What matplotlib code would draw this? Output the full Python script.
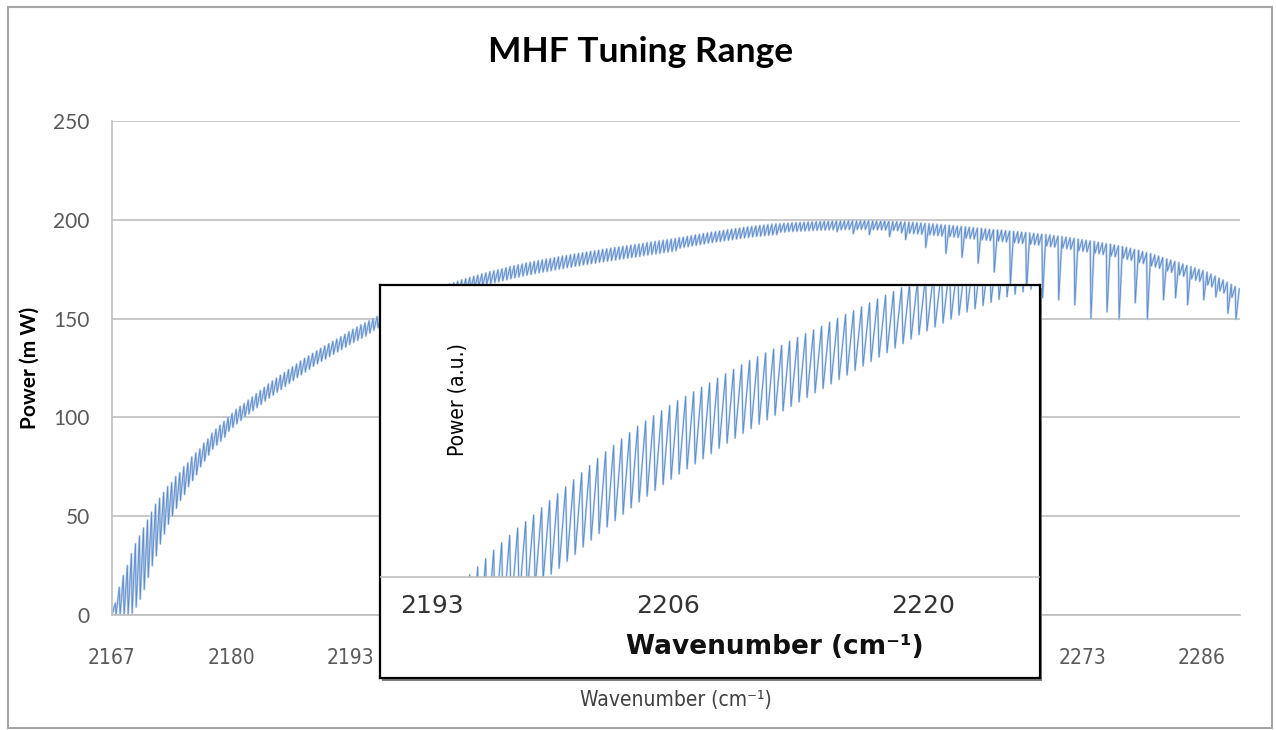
import numpy as np
import matplotlib
matplotlib.use("Agg")
import matplotlib.pyplot as plt
from matplotlib import font_manager
from matplotlib.patches import Rectangle

## tooth grid (cm-1), shared by main trace and inset
tooth_start = 2167.0
tooth_step = 0.44
rise = 0.36

# main trace, one peak / one trough per mode (m W)
peaks = [
    6, 14, 20, 25, 31, 36, 40, 44, 48, 52,
    56, 59, 62, 65, 67, 70, 72, 75, 77, 80,
    82, 84, 87, 89, 92, 94, 96, 98, 100, 102,
    104, 105.6, 107, 108.7, 110.3, 112, 113.6, 115.2, 116.9, 118.4,
    119.8, 121.3, 122.7, 124.2, 125.6, 127, 128.5, 129.9, 131.1, 132.4,
    133.6, 134.9, 136.1, 137.3, 138.5, 139.6, 140.8, 142, 143.3, 144.6,
    145.7, 146.8, 147.8, 148.9, 150, 151.1, 152.2, 153.4, 154.4, 155.5,
    156.5, 157.5, 158.4, 159.4, 160.4, 161.3, 162.1, 162.9, 163.7, 164.6,
    165.3, 166.1, 166.8, 167.5, 168.2, 168.9, 169.6, 170.2, 170.8, 171.4,
    172.0, 172.6, 173.1, 173.7, 174.2, 174.7, 175.2, 175.7, 176.2, 176.7,
    177.2, 177.6, 178.1, 178.5, 178.9, 179.3, 179.7, 180.1, 180.4, 180.8,
    181.2, 181.6, 181.9, 182.3, 182.6, 183.0, 183.3, 183.7, 184.0, 184.3,
    184.6, 185.0, 185.3, 185.6, 185.9, 186.2, 186.5, 186.8, 187.1, 187.4,
    187.7, 188.0, 188.4, 188.7, 189.0, 189.3, 189.6, 189.9, 190.2, 190.5,
    190.9, 191.2, 191.6, 191.9, 192.3, 192.6, 193.0, 193.3, 193.7, 194.0,
    194.3, 194.6, 194.9, 195.2, 195.5, 195.8, 196.1, 196.4, 196.6, 196.9,
    197.1, 197.3, 197.5, 197.7, 197.9, 198.0, 198.2, 198.3, 198.5, 198.6,
    198.7, 198.8, 198.9, 199.0, 199.1, 199.2, 199.3, 199.3, 199.4, 199.5,
    199.5, 199.5, 199.6, 199.6, 199.6, 199.6, 199.6, 199.6, 199.5, 199.5,
    199.4, 199.4, 199.3, 199.2, 199.1, 199.0, 198.9, 198.8, 198.7, 198.5,
    198.4, 198.2, 198.0, 197.9, 197.7, 197.5, 197.3, 197.2, 197.0, 196.8,
    196.6, 196.4, 196.2, 196.0, 195.8, 195.6, 195.4, 195.2, 195.0, 194.8,
    194.7, 194.5, 194.3, 194.1, 193.9, 193.7, 193.5, 193.3, 193.1, 192.9,
    192.7, 192.5, 192.3, 192.0, 191.7, 191.5, 191.2, 190.9, 190.6, 190.2,
    189.9, 189.6, 189.3, 189.0, 188.6, 188.3, 187.9, 187.6, 187.2, 186.8,
    186.4, 186.0, 185.5, 185.0, 184.5, 183.9, 183.4, 182.9, 182.2, 181.6,
    180.9, 180.2, 179.6, 178.9, 178.3, 177.6, 176.9, 176.3, 175.6, 174.9,
    174.3, 173.5, 172.5, 171.5, 170.5, 169.5, 168.4, 167.3, 166.2, 165.1,
]
troughs = [
    0, 0, 0, 0, 0, 1, 4, 8, 13, 19,
    25, 30, 36, 41, 46, 50, 54, 58, 61, 65,
    68, 71, 75, 78, 81, 84, 86, 88, 90, 93,
    95, 96.8, 98.5, 100.2, 101.8, 103.4, 105, 106.6, 108.3, 109.8,
    111.3, 112.8, 114.2, 115.7, 117.2, 118.7, 120.2, 121.6, 123, 124.4,
    125.9, 127.2, 128.4, 129.6, 130.8, 132, 133.2, 134.4, 135.6, 136.9,
    138, 139, 140.1, 141.2, 142.7, 144.1, 145.4, 146.9, 147.9, 149.0,
    150.0, 151.0, 151.9, 152.9, 153.9, 154.8, 155.6, 156.4, 157.2, 158.1,
    158.8, 159.6, 160.3, 161.0, 161.7, 162.4, 163.1, 163.7, 164.3, 164.9,
    165.5, 166.1, 166.6, 167.2, 167.7, 168.2, 168.7, 169.2, 169.7, 170.2,
    170.7, 171.1, 171.6, 172.0, 172.4, 172.8, 173.2, 173.6, 173.9, 174.3,
    174.7, 175.1, 175.4, 175.8, 176.1, 176.5, 176.8, 177.2, 177.5, 177.8,
    178.1, 178.5, 178.8, 179.1, 179.4, 179.7, 180.0, 180.3, 180.6, 180.9,
    181.2, 181.5, 181.9, 182.2, 182.5, 182.8, 183.1, 183.4, 183.7, 184.0,
    184.4, 185.7, 186.1, 186.4, 186.8, 187.1, 187.5, 187.8, 188.2, 188.5,
    188.8, 189.1, 189.4, 189.7, 190.0, 190.3, 190.6, 190.9, 191.1, 191.4,
    191.6, 191.8, 192.0, 192.2, 192.4, 192.5, 193.7, 193.8, 194.0, 194.1,
    194.2, 194.3, 194.4, 194.5, 194.6, 194.7, 194.8, 194.8, 194.9, 195.0,
    194.0, 195.0, 195.1, 195.1, 193.0, 195.1, 195.1, 195.1, 192.5, 195.0,
    194.9, 194.9, 194.8, 191.5, 194.6, 194.5, 193.4, 190.0, 193.2, 193.0,
    192.9, 192.7, 186.0, 192.4, 192.2, 192.0, 191.8, 183.0, 191.5, 191.3,
    191.1, 181.0, 190.7, 190.5, 190.3, 178.0, 189.9, 189.7, 189.5, 173.6,
    189.2, 189.0, 188.8, 167.0, 188.4, 188.2, 188.0, 163.0, 187.6, 187.4,
    187.2, 160.5, 186.8, 186.5, 186.2, 159.5, 185.7, 185.4, 185.1, 157.0,
    184.4, 184.1, 183.8, 150.0, 183.1, 182.8, 182.4, 153.4, 181.7, 181.3,
    149.6, 180.5, 180.0, 179.5, 158.0, 178.4, 177.9, 149.6, 176.7, 176.1,
    175.4, 159.5, 174.1, 173.4, 160.5, 172.1, 171.4, 157.0, 170.1, 169.4,
    168.8, 159.5, 167.0, 166.0, 161.0, 164.0, 162.9, 152.6, 160.7, 149.6,
]

# inset trace (a.u.), starts at tooth 61 of the grid
inset_first = 61
inset_peaks = [
    -4, -1.5, 0.8, 3.5, 6.3, 9.2, 11.8, 14.3, 16.8, 19.0,
    21.3, 23.8, 26.2, 28.6, 31.0, 33.4, 35.8, 38.3, 40.7, 43.0,
    45.2, 47.4, 49.6, 51.8, 53.6, 55.4, 57.1, 58.9, 60.6, 62.1,
    63.6, 65.2, 66.7, 68.3, 69.8, 71.3, 72.9, 74.4, 75.7, 77.0,
    78.3, 79.6, 81.0, 82.3, 83.6, 84.9, 86.2, 87.6, 88.9, 90.2,
    91.5, 92.8, 94.2, 95.5, 96.8, 98.1, 99.4, 100.8, 102.1, 103.4,
    104.5, 105.6, 106.7, 107.8, 109.0, 110.1, 111.2, 112.3, 113.4, 114.4,
    115.3, 116.2, 117.1, 118.0, 118.9,
]
inset_troughs = [
    -33, -31, -28.5, -26, -23, -20, -17, -14.5, -11.5, -8.5,
    -6, -3.5, -1, 1, 3, 5.4, 7.8, 10.3, 12.7, 15.0,
    17.2, 19.4, 21.6, 23.8, 25.8, 27.8, 29.8, 31.8, 33.6, 35.4,
    37.2, 38.9, 40.7, 42.4, 44.2, 46.0, 47.7, 49.4, 51.0, 52.5,
    54.0, 55.6, 57.1, 58.7, 60.2, 61.7, 63.3, 64.8, 66.4, 67.9,
    69.4, 71.0, 72.5, 74.1, 75.6, 77.1, 78.7, 80.2, 81.8, 83.3,
    84.6, 85.9, 87.3, 88.6, 90.0, 91.1, 92.2, 93.3, 94.4, 95.4,
    96.3, 97.2, 98.0, 98.9, 99.8,
]

y_ticks = [0, 50, 100, 150, 200, 250]
x_ticks = [2167, 2180, 2193, 2206, 2220, 2233, 2246, 2259, 2273, 2286]
# labels 2206..2259 sit under the pasted inset picture
x_labels = ['2167', '2180', '2193', '', '', '', '', '', '2273', '2286']
inset_ticks = [2193, 2206, 2220]


def sawtooth(first, pk, tr):
    """
    trough -> peak -> next trough, one tooth per mode
    """
    x_tr = tooth_start + tooth_step * (first + np.arange(len(pk)))
    x = np.column_stack([x_tr, x_tr + rise]).ravel()
    y = np.column_stack([tr, pk]).ravel()
    return x, y


# narrow face for the axis texts, if a condensed one is installed
condensed = [f for f in font_manager.fontManager.ttflist
             if f.name == 'DejaVu Sans' and str(f.stretch) in ('condensed', 'semi-condensed')]
if condensed:
    narrow = dict(family='DejaVu Sans', fontstretch='condensed')
else:
    narrow = dict(family='Roboto')

W, H = 1276, 730
fig = plt.figure(figsize=(W / 100, H / 100), dpi=100)

# outer chart border
fig.add_artist(Rectangle((8 / W, 2 / H), 1264 / W, 721 / H, transform=fig.transFigure,
                         fill=False, edgecolor='#A6A6A6', lw=1.5, zorder=0))

fig.text(641 / W, 1 - 52 / H, 'MHF Tuning Range', family='Lato', fontweight='bold',
         fontsize=25.5, ha='center', va='center')

## main chart
ax = fig.add_axes([112 / W, 115 / H, 1128 / W, 494 / H])
x, y = sawtooth(0, peaks, troughs)
ax.plot(x, y, color='#BDD0EB', lw=1.6)
ax.plot(x, y, color='#5B8BC9', lw=0.6)
ax.set_xlim(2167, 2290.2)
ax.set_ylim(0, 250)
ax.set_yticks(y_ticks)
ax.set_yticklabels([str(v) for v in y_ticks], family='Lato', fontsize=15, color='#595959')
ax.set_xticks(x_ticks)
ax.set_xticklabels(x_labels, fontsize=15, color='#595959', **narrow)
ax.tick_params(length=0)
ax.tick_params(axis='y', pad=16)
ax.tick_params(axis='x', pad=24)
ax.grid(axis='y', color='#BFBFBF', lw=1.2)
ax.set_axisbelow(True)
for s in ['top', 'right']:
    ax.spines[s].set_visible(False)
for s in ['left', 'bottom']:
    ax.spines[s].set_color('#BFBFBF')
    ax.spines[s].set_linewidth(1.2)

ax.set_ylabel('Power (m W)', family='Lato', fontweight='bold', fontsize=15, va='center')
ax.yaxis.set_label_coords(-0.073, 0.5)
ax.set_xlabel('Wavenumber (cm⁻¹)', fontsize=15, color='#404040', va='center', **narrow)
ax.xaxis.set_label_coords(0.4995, -0.172)

## inset picture
fig.add_artist(Rectangle((382 / W, 49 / H), 660 / W, 393 / H, transform=fig.transFigure,
                         facecolor='#7F7F7F', edgecolor='none', zorder=1.5))
box = fig.add_axes([380 / W, 52 / H, 660 / W, 393 / H], zorder=2)
box.set_xticks([])
box.set_yticks([])
for s in box.spines.values():
    s.set_color('black')
    s.set_linewidth(1.6)

ins = fig.add_axes([381 / W, 153 / H, 658 / W, 291 / H], zorder=3)
ins.patch.set_alpha(0)
xi, yi = sawtooth(inset_first, inset_peaks, inset_troughs)
ins.plot(xi, yi, color='#C9D9EF', lw=1.5)
ins.plot(xi, yi, color='#5B8ED0', lw=0.7)
ins.set_xlim(2190.2, 2226.4)
ins.set_ylim(0, 100)
ins.set_yticks([])
ins.set_xticks(inset_ticks)
ins.set_xticklabels([str(v) for v in inset_ticks], family='DejaVu Sans', fontsize=18,
                    color='#333333')
ins.tick_params(length=0, pad=12)
for s in ['top', 'right', 'left']:
    ins.spines[s].set_visible(False)
ins.spines['bottom'].set_color('#BFBFBF')
ins.spines['bottom'].set_linewidth(1.2)

fig.text(458 / W, 1 - 400 / H, 'Power (a.u.)', fontsize=15, rotation=90,
         ha='center', va='center', **narrow)
fig.text(775 / W, 1 - 647 / H, 'Wavenumber (cm⁻¹)', family='DejaVu Sans', fontweight='bold',
         fontsize=19, color='#111111', ha='center', va='center')

fig.savefig('out.png', dpi=100)
